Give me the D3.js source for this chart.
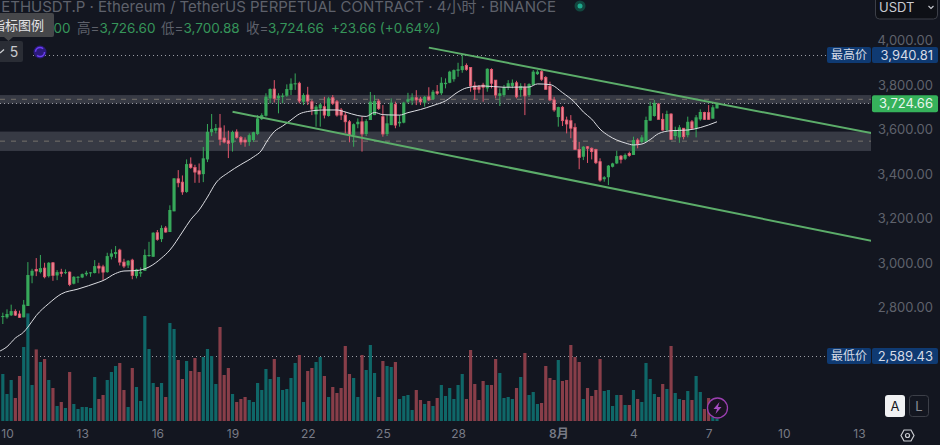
<!DOCTYPE html>
<html>
<head>
<meta charset="utf-8">
<script src="https://cdnjs.cloudflare.com/ajax/libs/d3/7.8.5/d3.min.js"></script>
<style>
  html, body { margin: 0; padding: 0; background: #131620; overflow: hidden; }
  text { font-family: Inter, "Noto Sans CJK SC", sans-serif; }
</style>
</head>
<body>
<div id="plot"></div>
<script>
const w = 940;
const h = 445;
const plotRight = 871;

// 4h candles, first one opens 9 Jul 20:00
const startTime = "2025-07-09T20:00";

const open = [2764,2763,2772,2790,2778,2763,2814,2950,2978,2966,
  2984,2948,3008,2951,2966,2963,2966,2914,2942,2942,
  2956,2963,2962,2993,2990,2966,3035,3047,3065,3011,
  2996,3020,2948,2960,2972,3038,3035,3143,3114,3164,
  3146,3239,3385,3370,3326,3451,3436,3421,3406,3472,
  3594,3601,3613,3568,3556,3547,3595,3571,3559,3550,
  3559,3586,3653,3668,3746,3788,3746,3753,3758,3784,
  3809,3814,3731,3761,3731,3674,3701,3709,3667,3749,
  3731,3694,3671,3641,3581,3630,3641,3586,3649,3671,
  3734,3664,3586,3626,3719,3634,3637,3731,3736,3749,
  3743,3727,3753,3742,3776,3769,3810,3816,3832,3870,
  3873,3894,3885,3802,3798,3806,3791,3876,3828,3757,
  3761,3796,3802,3816,3784,3796,3761,3806,3855,3866,
  3840,3801,3739,3662,3706,3649,3646,3616,3517,3484,
  3529,3522,3517,3462,3383,3392,3439,3454,3487,3475,
  3499,3492,3559,3551,3551,3646,3667,3721,3652,3604,
  3676,3577,3571,3612,3581,3641,3611,3652,3683,3682,
  3655,3701];

const high = [2784,2799,2820,2799,2793,2841,3011,2981,3029,3043,
  3008,3011,3011,2975,2981,2978,2969,2948,2948,2960,
  2972,2966,3020,3008,2999,3053,3068,3083,3071,3026,
  3020,3026,2981,2987,3068,3102,3145,3155,3176,3173,
  3266,3388,3424,3400,3472,3481,3448,3454,3528,3631,
  3676,3631,3676,3625,3601,3601,3607,3577,3571,3589,
  3596,3671,3679,3769,3791,3828,3769,3769,3809,3836,
  3858,3821,3769,3798,3739,3716,3724,3753,3753,3761,
  3739,3703,3686,3649,3634,3656,3664,3653,3775,3761,
  3743,3716,3671,3746,3731,3671,3731,3771,3769,3783,
  3753,3757,3796,3784,3806,3841,3836,3870,3876,3906,
  3940.81,3903,3885,3821,3806,3816,3881,3881,3828,3791,
  3806,3828,3831,3825,3814,3814,3814,3873,3873,3873,
  3846,3821,3753,3709,3712,3664,3671,3634,3551,3532,
  3532,3526,3520,3477,3397,3447,3457,3511,3492,3499,
  3507,3574,3567,3581,3664,3731,3739,3724,3679,3691,
  3679,3619,3626,3613,3664,3649,3671,3697,3686,3716,
  3716,3726.6];

const low = [2733,2757,2769,2769,2760,2763,2814,2916,2948,2960,
  2938,2942,2927,2930,2945,2957,2903,2911,2918,2939,
  2948,2945,2960,2960,2930,2963,3023,3029,2996,2984,
  2984,2934,2938,2945,2972,3035,3034,3107,3101,3143,
  3146,3239,3347,3313,3322,3430,3367,3367,3370,3460,
  3577,3589,3535,3544,3478,3507,3565,3538,3529,3533,
  3551,3581,3649,3664,3724,3728,3679,3724,3753,3761,
  3784,3724,3716,3716,3671,3619,3619,3656,3664,3716,
  3664,3649,3589,3549,3529,3612,3507,3577,3649,3671,
  3694,3574,3577,3626,3612,3619,3634,3724,3716,3716,
  3716,3709,3734,3739,3761,3761,3791,3814,3821,3843,
  3861,3870,3776,3739,3769,3731,3776,3791,3746,3712,
  3753,3784,3791,3746,3753,3671,3753,3806,3851,3825,
  3784,3734,3686,3619,3622,3589,3567,3514,3428,3469,
  3456,3472,3451,3372,3372,3357,3436,3451,3454,3469,
  3484,3492,3522,3544,3551,3646,3664,3652,3601,3596,
  3559,3562,3547,3562,3571,3607,3571,3646,3649,3649,
  3655,3700.88];

const close = [2769,2778,2791,2773,2763,2820,2953,2972,2971,2984,
  2945,3008,2951,2966,2960,2966,2911,2945,2945,2957,
  2963,2965,2993,2984,2966,3038,3050,3056,3011,2993,
  3017,2951,2978,2966,3043,3043,3143,3113,3164,3146,
  3245,3387,3367,3326,3451,3436,3415,3406,3477,3596,
  3609,3613,3562,3550,3544,3595,3571,3550,3550,3581,
  3594,3656,3671,3754,3788,3746,3758,3758,3788,3812,
  3814,3734,3761,3734,3698,3709,3719,3671,3746,3724,
  3671,3671,3641,3581,3630,3641,3586,3644,3731,3734,
  3701,3586,3634,3727,3626,3641,3727,3742,3751,3739,
  3731,3753,3739,3776,3769,3816,3816,3866,3873,3876,
  3891,3876,3802,3787,3787,3796,3879,3814,3761,3769,
  3796,3814,3816,3753,3802,3757,3810,3866,3866,3832,
  3787,3739,3694,3707,3646,3631,3612,3517,3481,3529,
  3522,3507,3457,3379,3392,3444,3454,3487,3472,3492,
  3490,3559,3541,3571,3649,3712,3726,3652,3604,3676,
  3562,3604,3616,3574,3641,3611,3661,3685,3652,3652,
  3706,3724.66];

// volume in thousands
const volume = [235,135,205,115,225,370,538,180,358,295,
  310,205,165,75,95,65,245,85,60,70,
  70,65,220,110,130,205,245,275,290,155,
  70,265,170,100,525,360,190,170,190,120,
  490,460,305,210,300,250,315,245,320,360,
  325,185,470,230,265,135,95,110,120,105,
  95,190,155,260,210,310,220,155,160,215,
  290,330,95,250,265,295,320,225,120,170,
  140,165,375,235,215,120,330,255,380,240,
  120,300,275,270,295,110,125,130,55,155,
  105,85,100,75,115,180,125,165,110,180,
  235,110,355,185,105,200,180,180,310,240,
  115,120,110,165,220,340,130,145,85,90,
  275,215,205,305,200,205,380,320,295,110,
  165,125,155,310,150,155,75,130,130,80,
  80,155,110,95,290,210,135,120,185,160,
  375,140,110,105,150,105,225,145,60,115,
  20,10];

// moving average, read at these candle numbers
const maIndex = [-1,1,3,5,6,8,11,14,18,23,24,27,29,32,35,38,40,43,45,47,49,51,54,57,60,62,63,65,67,69,71,73,77,80,82,85,87,89,91,95,97,100,103,106,109,111,115,120,126,128,131,134,137,139,141,143,145,147,149,151,153,155,157,160,164,167,171];
const maValue = [2609,2631,2670,2697,2719,2771,2825,2868,2890,2921,2928,2960,2971,2973,2989,3029,3065,3146,3202,3245,3303,3366,3413,3449,3483,3514,3546,3597,3622,3649,3676,3687,3694,3694,3685,3669,3665,3683,3673,3671,3682,3696,3714,3735,3775,3793,3802,3796,3797,3811,3808,3772,3727,3685,3653,3608,3579,3559,3546,3537,3541,3561,3588,3601,3604,3615,3641];

// channel lines, candle number and price at each end
const upperIndex = [102, 208.2];
const upperPrice = [3974, 3589];
const lowerIndex = [55, 208.2];
const lowerPrice = [3686, 3106];

// grey zones: top, bottom, middle
const zoneTop = [3761, 3597];
const zoneBottom = [3723, 3510];
const zoneMid = [3742, 3554];

const priceTicks = [4000, 3800, 3600, 3400, 3200, 3000, 2800];
const dateTicks = ["2025-07-10","2025-07-13","2025-07-16","2025-07-19","2025-07-22","2025-07-25","2025-07-28","2025-08-01","2025-08-04","2025-08-07","2025-08-10","2025-08-13"];
const dateLabels = ["10","13","16","19","22","25","28","8月","4","7","10","13"];

const highest = 3940.81;
const lowest = 2589.43;
const last = 3724.66;

const upBody = "#37a85a";
const downEdge = "#e2566c";
const downFill = "#ea8594";
const upVol = "#0f6768";
const downVol = "#883e49";
const dim = "#5f626c";

const fourHours = 4 * 3600 * 1000;
const start = new Date(startTime + "Z");
const dateAt = i => new Date(+start + i * fourHours);

const xScale = d3.scaleUtc().
domain([new Date("2025-07-10T00:00Z"), new Date("2025-08-13T00:00Z")]).
range([7, 859]);

const yScale = d3.scaleLinear().
domain([lowest, highest]).
range([356, 55]);

const volScale = d3.scaleLinear().
domain([0, 540]).
range([421, 313]);

const step = xScale(dateAt(1)) - xScale(dateAt(0));
const bodyW = step * 0.76;
const candles = open.map((d, i) => ({ i: i, o: d, h: high[i], l: low[i], c: close[i], v: volume[i] }));

const svg = d3.select("#plot").
append("svg").
attr("width", w).
attr("height", h).
style("display", "block");

svg.append("rect").attr("width", w).attr("height", h).attr("fill", "#131620");

svg.append("clipPath").attr("id", "plot-clip").
append("rect").attr("width", plotRight).attr("height", h);

const chart = svg.append("g").attr("clip-path", "url(#plot-clip)");

// zones
chart.selectAll(".zone").
data(zoneTop).
enter().
append("rect").
attr("class", "zone").
attr("x", 0).
attr("width", plotRight).
attr("y", d => yScale(d)).
attr("height", (d, i) => yScale(zoneBottom[i]) - yScale(d)).
attr("fill", "#787b86").
attr("opacity", 0.36);

chart.selectAll(".zone-mid").
data(zoneMid).
enter().
append("line").
attr("class", "zone-mid").
attr("x1", 0).
attr("x2", plotRight).
attr("y1", d => yScale(d)).
attr("y2", d => yScale(d)).
attr("stroke", "#75726c").
attr("stroke-dasharray", "5 6");

// dotted price lines
chart.selectAll(".level").
data([highest, last, lowest]).
enter().
append("line").
attr("class", "level").
attr("x1", d => d === highest ? 33 : 0).
attr("x2", plotRight).
attr("y1", d => Math.round(yScale(d)) + 0.5).
attr("y2", d => Math.round(yScale(d)) + 0.5).
attr("stroke", "#9a9ca4").
attr("stroke-dasharray", "1 3");

// volume
chart.selectAll(".vol").
data(candles).
enter().
append("rect").
attr("class", "vol").
attr("x", d => xScale(dateAt(d.i)) - bodyW / 2).
attr("width", bodyW).
attr("y", d => volScale(d.v)).
attr("height", d => volScale(0) - volScale(d.v)).
attr("fill", d => d.c >= d.o ? upVol : downVol);

// candles
chart.selectAll(".wick").
data(candles).
enter().
append("line").
attr("class", "wick").
attr("x1", d => xScale(dateAt(d.i))).
attr("x2", d => xScale(dateAt(d.i))).
attr("y1", d => yScale(d.h)).
attr("y2", d => yScale(d.l)).
attr("stroke", d => d.c >= d.o ? upBody : downEdge).
attr("stroke-width", 1);

chart.selectAll(".body").
data(candles).
enter().
append("rect").
attr("class", "body").
attr("x", d => xScale(dateAt(d.i)) - bodyW / 2 + (d.c >= d.o ? 0 : 0.4)).
attr("width", d => d.c >= d.o ? bodyW : bodyW - 0.8).
attr("y", d => yScale(Math.max(d.o, d.c))).
attr("height", d => Math.max(1, Math.abs(yScale(d.o) - yScale(d.c)))).
attr("fill", d => d.c >= d.o ? upBody : downFill).
attr("stroke", d => d.c >= d.o ? "none" : downEdge).
attr("stroke-width", 0.8);

// moving average
const maLine = d3.line().
x(d => xScale(dateAt(d))).
y((d, i) => yScale(maValue[i])).
curve(d3.curveMonotoneX);

chart.append("path").
attr("d", maLine(maIndex)).
attr("fill", "none").
attr("stroke", "#dcdde2").
attr("stroke-width", 1);

// channel
[[upperIndex, upperPrice], [lowerIndex, lowerPrice]].forEach(pair => {
  chart.append("line").
  attr("x1", xScale(dateAt(pair[0][0]))).
  attr("x2", xScale(dateAt(pair[0][1]))).
  attr("y1", yScale(pair[1][0])).
  attr("y2", yScale(pair[1][1])).
  attr("stroke", "#5cad6a").
  attr("stroke-width", 2);
});

// price axis
const yAxis = d3.axisRight(yScale).
tickValues(priceTicks).
tickFormat(d3.format(",.2f")).
tickSize(0).
tickPadding(62);

const yAxisG = svg.append("g").
attr("id", "y-axis").
attr("transform", "translate(" + plotRight + ",-1.5)").
call(yAxis);

yAxisG.select(".domain").remove();
yAxisG.selectAll("text").
attr("text-anchor", "end").
attr("fill", dim).
style("font-size", "13px");

// time axis
const xAxis = d3.axisBottom(xScale).
tickValues(dateTicks.map(d => new Date(d + "T00:00Z"))).
tickFormat((d, i) => dateLabels[i]).
tickSize(0).
tickPadding(0);

const xAxisG = svg.append("g").
attr("id", "x-axis").
attr("transform", "translate(0,429)").
call(xAxis);

xAxisG.select(".domain").remove();
xAxisG.selectAll("text").
attr("fill", "#787b86").
attr("font-weight", (d, i) => dateLabels[i] === "8月" ? 600 : 400).
style("font-size", "12px");

// right side labels
const flags = [
  { name: "最高价", value: highest, bg: "#0f3a72" },
  { name: "最低价", value: lowest, bg: "#0f3a72" }
];

flags.forEach(f => {
  const y = yScale(f.value);
  svg.append("rect").attr("x", 827).attr("y", y - 8).attr("width", 44).attr("height", 16).attr("rx", 2).attr("fill", f.bg);
  svg.append("rect").attr("x", 872).attr("y", y - 8).attr("width", 66).attr("height", 16).attr("rx", 2).attr("fill", f.bg);
  svg.append("text").attr("x", 849).attr("y", y + 4).attr("text-anchor", "middle").attr("fill", "#d6dbe6").style("font-size", "12px").text(f.name);
  svg.append("text").attr("x", 933).attr("y", y + 4.5).attr("text-anchor", "end").attr("fill", "#d6dbe6").style("font-size", "13px").text(d3.format(",.2f")(f.value));
});

svg.append("rect").attr("x", 872).attr("y", yScale(last) - 8).attr("width", 66).attr("height", 17).attr("rx", 2).attr("fill", "#36b25b");
svg.append("text").attr("x", 933).attr("y", yScale(last) + 5).attr("text-anchor", "end").attr("fill", "#e8f5ec").style("font-size", "13px").text(d3.format(",.2f")(last));

// currency box
svg.append("rect").attr("x", 875.5).attr("y", -6).attr("width", 62).attr("height", 25).attr("rx", 4).attr("fill", "#0e1016").attr("stroke", "#3c3f48");
svg.append("text").attr("x", 879).attr("y", 12).attr("fill", "#c9cbd1").style("font-size", "13px").text("USDT");
svg.append("path").attr("d", "M928.5 6 L931 8.5 L933.5 6").attr("fill", "none").attr("stroke", "#c9cbd1").attr("stroke-width", 1.1);

// header
svg.append("text").attr("x", 556).attr("y", 12).attr("text-anchor", "end").attr("fill", "#5e616b").style("font-size", "15px").
text("ETHUSDT.P · Ethereum / TetherUS PERPETUAL CONTRACT · 4小时 · BINANCE");

svg.append("circle").attr("cx", 580).attr("cy", 6).attr("r", 5.5).attr("fill", "#12463f");
svg.append("circle").attr("cx", 580).attr("cy", 6).attr("r", 2.5).attr("fill", "#1fa88d");

const green = "#36955a";
const ohlcRow = [
  { x: 53.5, t: "00", c: green },
  { x: 77, t: "高=", c: "#5e616b" },
  { x: 99.5, t: "3,726.60", c: green },
  { x: 161, t: "低=", c: "#5e616b" },
  { x: 183.5, t: "3,700.88", c: green },
  { x: 246, t: "收=", c: "#5e616b" },
  { x: 268, t: "3,724.66", c: green },
  { x: 331, t: "+23.66 (+0.64%)", c: green }
];

svg.selectAll(".ohlc").
data(ohlcRow).
enter().
append("text").
attr("class", "ohlc").
attr("x", d => d.x).
attr("y", 33).
attr("fill", d => d.c).
style("font-size", "13.5px").
text(d => d.t);

// tooltip and collapsed indicator box
svg.append("rect").attr("x", -3).attr("y", 13).attr("width", 57).attr("height", 24).attr("rx", 2).attr("fill", "#46474a");
svg.append("path").attr("d", "M4 37 L8.5 41 L13 37 Z").attr("fill", "#46474a");
svg.append("text").attr("x", 44).attr("y", 30).attr("text-anchor", "end").attr("fill", "#e2e3e5").style("font-size", "13px").text("指标图例");

svg.append("rect").attr("x", -3).attr("y", 41).attr("width", 26).attr("height", 21).attr("rx", 2).attr("fill", "#2a2d35");
svg.append("path").attr("d", "M0 53 L4 49.5").attr("fill", "none").attr("stroke", "#d0d2d6").attr("stroke-width", 1.3);
svg.append("text").attr("x", 14).attr("y", 57).attr("text-anchor", "middle").attr("fill", "#c8cacf").style("font-size", "14px").text("5");

svg.append("circle").attr("cx", 40).attr("cy", 52).attr("r", 6.5).attr("fill", "#2b1a7a");
svg.append("circle").attr("cx", 40).attr("cy", 52).attr("r", 4.5).attr("fill", "none").attr("stroke", "#6a3df0").attr("stroke-width", 1.5).attr("stroke-dasharray", "10 4");

// lightning badge
svg.append("circle").attr("cx", 717.5).attr("cy", 408).attr("r", 10).attr("fill", "#181320").attr("stroke", "#9b3fb0").attr("stroke-width", 1.3);
svg.append("path").attr("d", "M719.5 402 L713.5 409 L717 409 L715.5 414 L721.5 407 L718 407 Z").attr("fill", "#a44bc0");

// A / L buttons
svg.append("rect").attr("x", 885).attr("y", 395).attr("width", 20).attr("height", 22).attr("rx", 3).attr("fill", "#f0f1f3");
svg.append("text").attr("x", 895).attr("y", 411).attr("text-anchor", "middle").attr("fill", "#131620").style("font-size", "13px").text("A");
svg.append("rect").attr("x", 909.5).attr("y", 395.5).attr("width", 19).attr("height", 21).attr("rx", 3).attr("fill", "none").attr("stroke", "#3c3f48");
svg.append("text").attr("x", 919).attr("y", 411).attr("text-anchor", "middle").attr("fill", "#8a8d96").style("font-size", "13px").text("L");

// settings
svg.append("path").attr("d", "M901 435.5 L904 430 L911 430 L914 435.5 L911 441 L904 441 Z").attr("fill", "none").attr("stroke", "#c9cbd1").attr("stroke-width", 1.2);
svg.append("circle").attr("cx", 907.5).attr("cy", 435.5).attr("r", 2).attr("fill", "none").attr("stroke", "#c9cbd1").attr("stroke-width", 1.2);
</script>
</body>
</html>
